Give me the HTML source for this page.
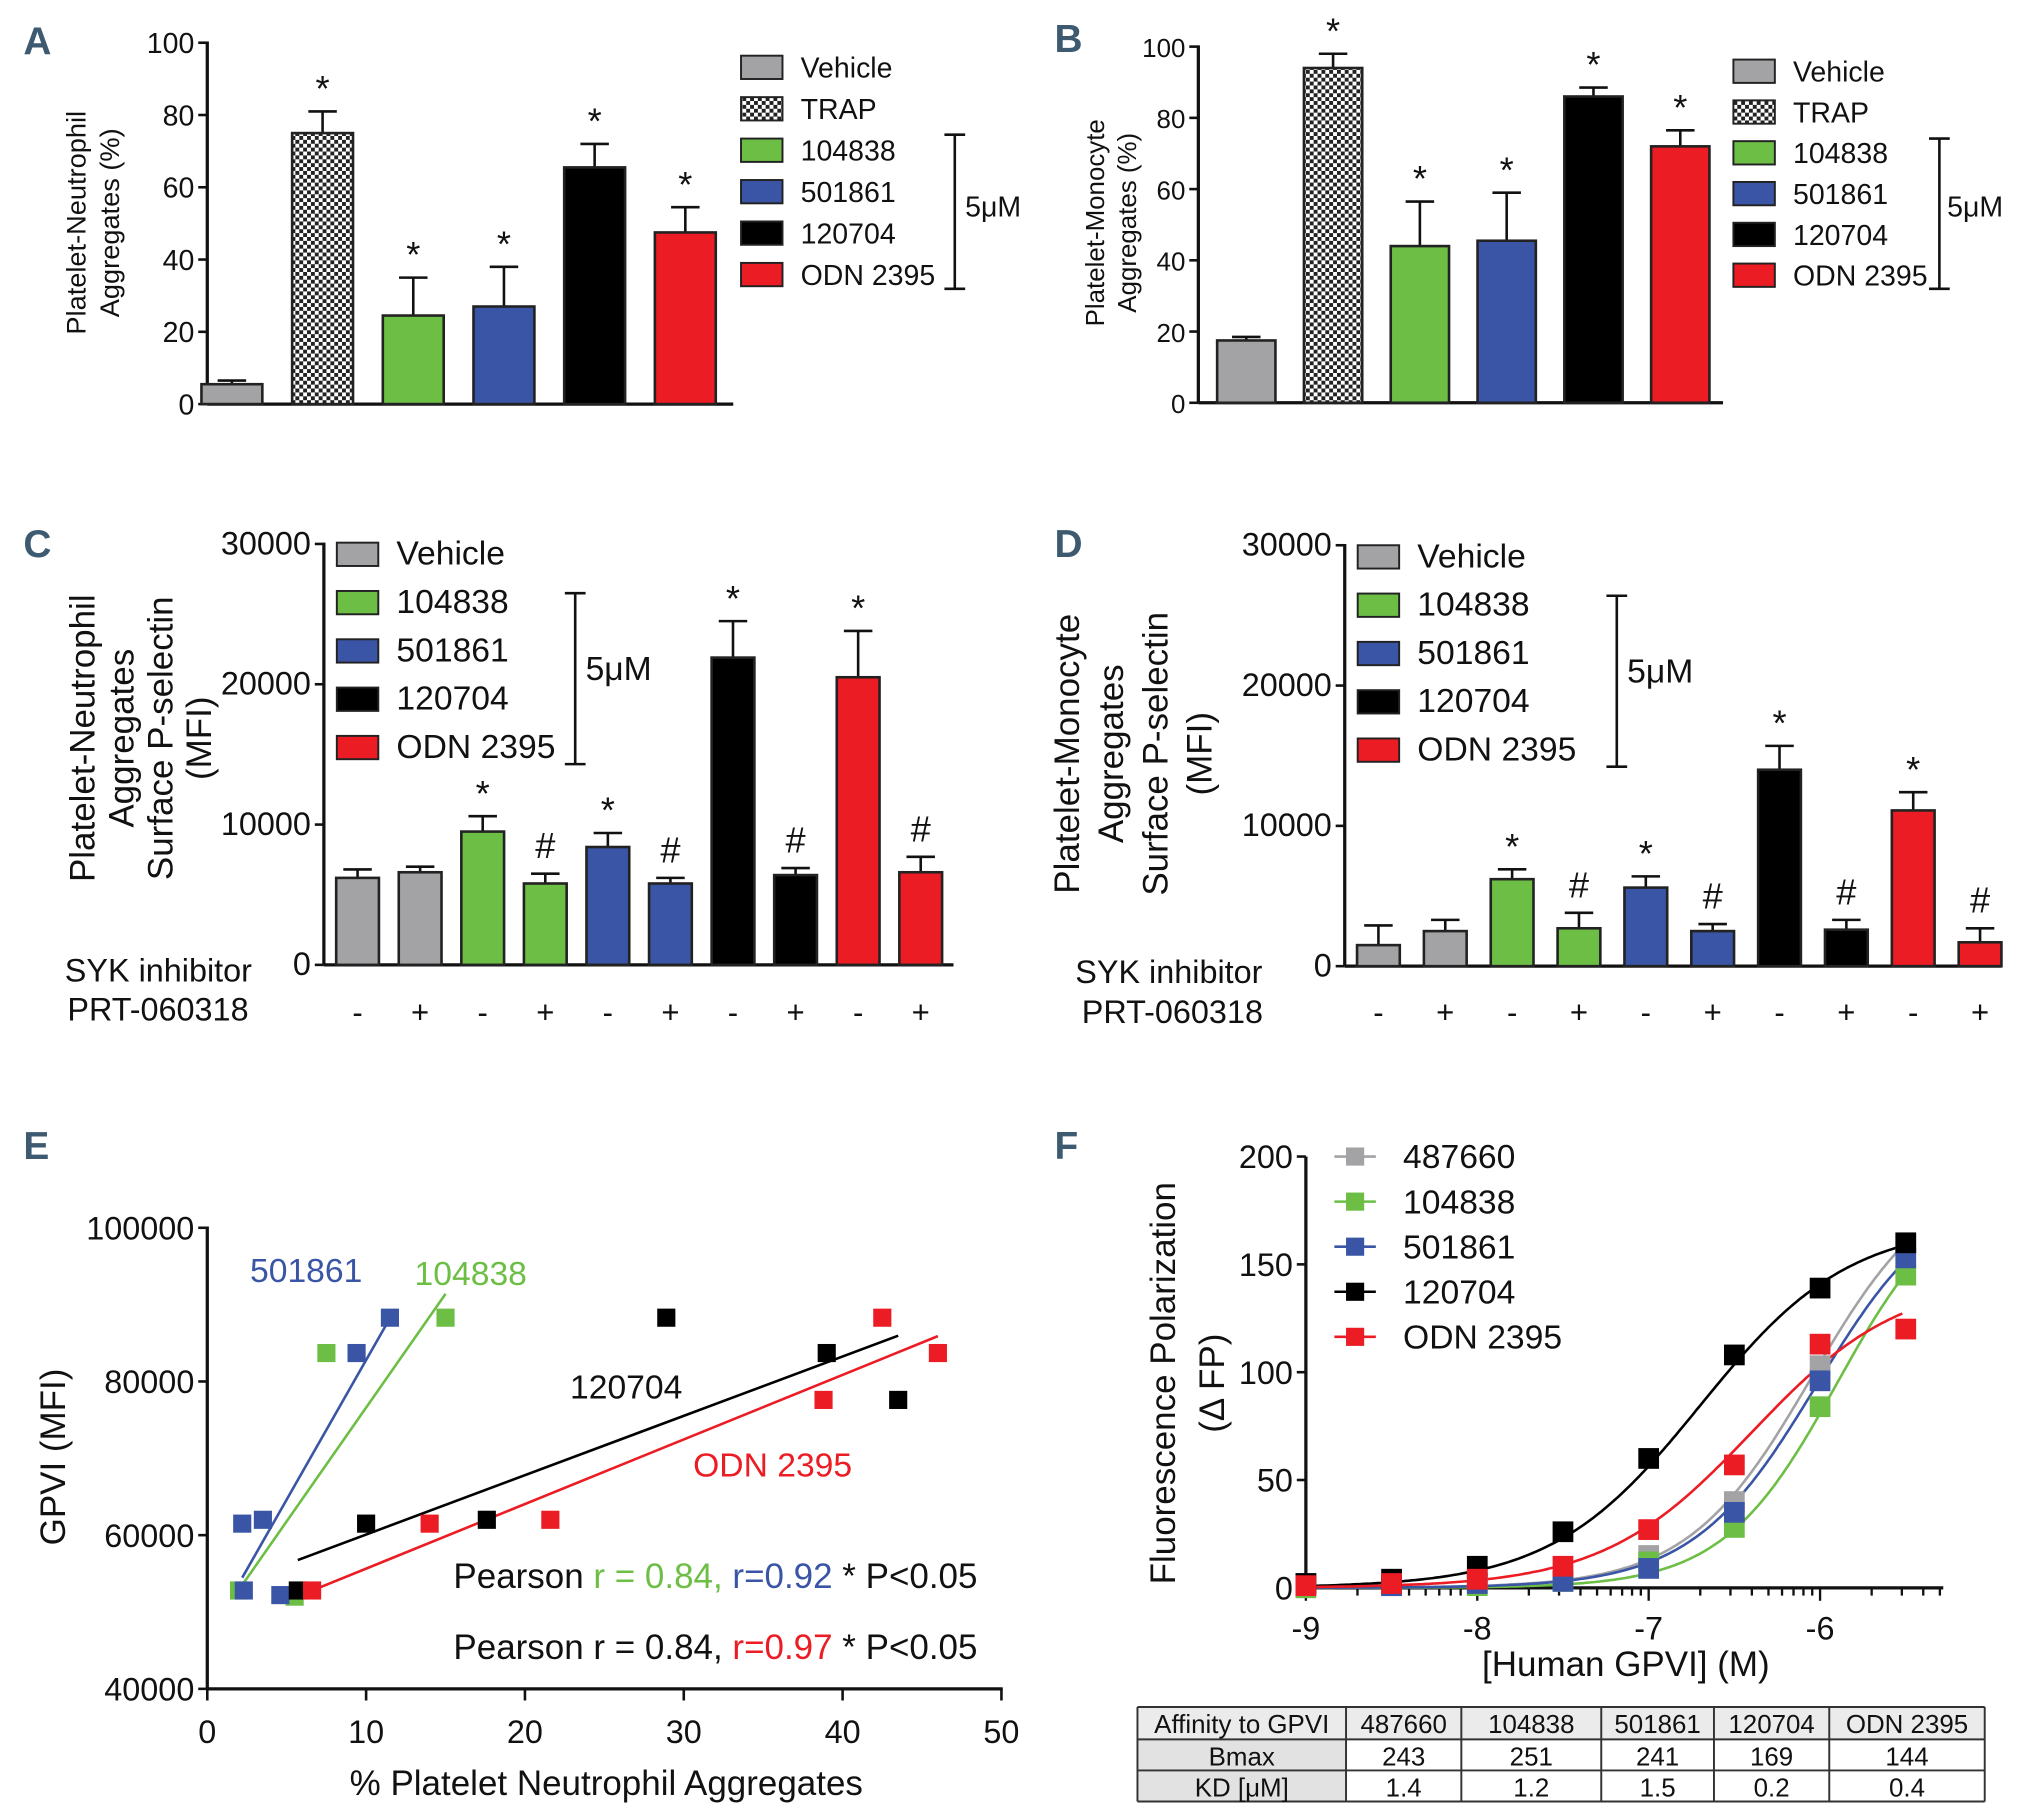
<!DOCTYPE html>
<html><head><meta charset="utf-8"><style>
html,body{margin:0;padding:0;background:#fff}
svg{display:block}
text{font-family:"Liberation Sans Narrow","Liberation Sans",sans-serif}
</style></head><body>
<svg id="fig" xmlns="http://www.w3.org/2000/svg" width="2021" height="1808" viewBox="0 0 1560 1396" preserveAspectRatio="none">
<defs><pattern id="chk" width="6" height="6" patternUnits="userSpaceOnUse"><rect width="6" height="6" fill="#fff"/><rect width="3" height="3" fill="#222"/><rect x="3" y="3" width="3" height="3" fill="#222"/></pattern></defs>
</svg>
<script>
// ---- Panel A data ----
const aCats=["Vehicle","TRAP","104838","501861","120704","ODN 2395"];
const aVals=[5.5,75,24.5,27,65.5,47.5];
const aErr=[1,6,10.5,11,6.5,7];
const aTicks=[0,20,40,60,80,100];
// ---- Panel B data ----
const bVals=[17.5,94,44,45.5,86,72];
const bErr=[1,4,12.5,13.5,2.5,4.5];
const bTicks=[0,20,40,60,80,100];
// ---- Panel C data ----
const cVals=[6200,6600,9500,5800,8400,5800,21900,6400,20500,6600];
const cErr=[600,400,1100,700,1000,400,2600,500,3300,1100];
const cMarks=["","","*","#","*","#","*","#","*","#"];
const cSyk=["-","+","-","+","-","+","-","+","-","+"];
const cTicks=[0,10000,20000,30000];
// ---- Panel D data ----
const dVals=[1500,2500,6200,2700,5600,2500,14000,2600,11100,1700];
const dErr=[1400,800,700,1100,800,500,1700,700,1300,1000];
// ---- Panel E data ----
const eBlueX=[2.2,3.5,2.3,4.6,9.4,11.5];
const eBlueY=[61500,62000,52800,52200,83700,88300];
const eGreenX=[2,5.5,7.5,15];
const eGreenY=[52800,52000,83700,88300];
const eBlackX=[5.7,10,17.6,28.9,39,43.5];
const eBlackY=[52800,61500,62000,88300,83700,77600];
const eRedX=[6.6,14,21.6,38.8,42.5,46];
const eRedY=[52800,61500,62000,77600,88300,83700];
const eXTicks=[0,10,20,30,40,50];
const eYTicks=[40000,60000,80000,100000];
// ---- Panel F data ----
const fLogX=[-9,-8.5,-8,-7.5,-7,-6.5,-6,-5.5];
const fGray=[1,1,2,3,15,40,103,160];
const fGreen=[0,1,1,3,12,28,84,145];
const fBlue=[2,1,2,3,9,35,96,153];
const fBlack=[2,4,10,26,60,108,139,160];
const fRed=[1,2,4,10,27,57,113,120];
const fNames=["487660","104838","501861","120704","ODN 2395"];
const fBmax=[243,251,241,169,144];
const fKd=[1.4,1.2,1.5,0.2,0.4];
// fitted curve parameters
const fTop=[195,190,188,169,144];
const fLogEC50=[-6.05,-5.9,-6.02,-6.7,-6.4];
const fSlope=[1.2,1.3,1.2,1,1];
const fYTicks=[0,50,100,150,200];
const fXTicks=[-9,-8,-7,-6];

const NS="http://www.w3.org/2000/svg";
const svg=document.getElementById('fig');
const COL={gray:"#a3a3a6",green:"#6cbe45",blue:"#3a55a5",black:"#000",red:"#ec1c24",chk:"url(#chk)"};
function mk(tag,at,parent){const e=document.createElementNS(NS,tag);for(const k in at)e.setAttribute(k,at[k]);(parent||svg).appendChild(e);return e;}
function txt(x,y,s,size,anchor,fill,parent,extra){const t=mk('text',Object.assign({x:x,y:y,'font-size':size,'text-anchor':anchor||'start',fill:fill||'#111'},extra||{}),parent);t.textContent=s;return t;}
function grp(name){const g=mk('g',{});return g;}
function line(x1,y1,x2,y2,p,w,c){return mk('line',{x1:x1,y1:y1,x2:x2,y2:y2,stroke:c||'#111','stroke-width':w||2},p);}

function panelLetter(x,y,s){const t=txt(x,y,s,30,'start','#3d5a70',null,{'font-weight':'bold'});}

function legend(p,x,y0,dy,items,size){items.forEach((it,i)=>{const y=y0+i*dy;const r=mk('rect',{x:x,y:y-9,width:32,height:18,fill:it[1],stroke:'#222','stroke-width':1.5},p);const t=txt(x+46,y+8,it[0],size,'start','#111',p);});}
function bracket(p,x,y1,y2,lx,ly,size){line(x,y1,x,y2,p,2);line(x-8,y1,x+8,y1,p,2);line(x-8,y2,x+8,y2,p,2);const t=txt(lx,ly,'5μM',size,'start','#111',p);}

function barPanel(o){
  const p=grp(o.name);
  const ys=v=>o.y0-(v-o.vmin)/(o.vmax-o.vmin)*(o.y0-o.y1);
  line(o.ax,o.y1-1,o.ax,o.y0,p,2.5);line(o.ax,o.y0,o.axEnd,o.y0,p,2.5);
  o.ticks.forEach(t=>{const y=ys(t);line(o.ax-7,y,o.ax,y,p,2);const l=txt(o.ax-10,y+8,String(t),o.tsize,'end','#111',p);});
  o.vals.forEach((v,i)=>{const cx=o.c0+i*o.step;const top=ys(v);const et=ys(v+o.err[i]);
    line(cx,top,cx,et,p,2);line(cx-11,et,cx+11,et,p,2);
    const r=mk('rect',{x:cx-o.bw/2,y:top,width:o.bw,height:o.y0-top,fill:o.fills[i],stroke:'#222','stroke-width':2},p);
    
    const m=o.marks[i];if(m){const t=txt(cx,et-(m==='*'?8:12),m,28,'middle','#111',p);}
  });
  o.ylab.forEach((s,i)=>{const t=txt(o.ylx+i*o.yldx,o.yly,s,o.ylsize,'middle','#111',p,{transform:`rotate(-90 ${o.ylx+i*o.yldx} ${o.yly})`});});
  return {p,ys};
}
const F6=[COL.gray,COL.chk,COL.green,COL.blue,COL.black,COL.red];
const F10=[COL.gray,COL.gray,COL.green,COL.green,COL.blue,COL.blue,COL.black,COL.black,COL.red,COL.red];

// Panel A
panelLetter(18,42,'A');
let A=barPanel({name:'panel-a-chart',vals:aVals,err:aErr,fills:F6,marks:['','*','*','*','*','*'],ticks:aTicks,vmin:0,vmax:100,y0:312,y1:33,ax:160,axEnd:566,c0:179,step:70,bw:47,tsize:22,ylab:['Platelet-Neutrophil','Aggregates (%)'],ylx:66,yldx:26,yly:172,ylsize:21});
legend(A.p,572,52,32,aCats.map((c,i)=>[c,F6[i]]),22);
bracket(A.p,737,104,223,745,167,22);

// Panel B
panelLetter(814,40,'B');
let B=barPanel({name:'panel-b-chart',vals:bVals,err:bErr,fills:F6,marks:['','*','*','*','*','*'],ticks:bTicks,vmin:0,vmax:100,y0:311,y1:36,ax:925,axEnd:1330,c0:962,step:67,bw:45,tsize:20,ylab:['Platelet-Monocyte','Aggregates (%)'],ylx:852,yldx:25,yly:172,ylsize:20});
legend(B.p,1338,55,31.5,aCats.map((c,i)=>[c,F6[i]]),22);
bracket(B.p,1497,107,223,1503,167,22);

// Panel C
panelLetter(18,430,'C');
let C=barPanel({name:'panel-c-chart',vals:cVals,err:cErr,fills:F10,marks:cMarks,ticks:cTicks,vmin:0,vmax:30000,y0:745,y1:420,ax:250,axEnd:736,c0:276,step:48.3,bw:33,tsize:25,ylab:['Platelet-Neutrophil','Aggregates','Surface P-selectin','(MFI)'],ylx:73,yldx:30,yly:570,ylsize:27});
legend(C.p,260,428,37.3,["Vehicle","104838","501861","120704","ODN 2395"].map((c,i)=>[c,[COL.gray,COL.green,COL.blue,COL.black,COL.red][i]]),26);
bracket(C.p,444,458,590,452,525,26);
[['SYK inhibitor',50,758],['PRT-060318',52,788]].forEach(a=>{const t=txt(a[1],a[2],a[0],25,'start','#111',C.p);});
cSyk.forEach((s,i)=>{const t=txt(276+i*48.3,790,s,24,'middle','#111',C.p);});

// Panel D
panelLetter(814,430,'D');
let D=barPanel({name:'panel-d-chart',vals:dVals,err:dErr,fills:F10,marks:cMarks,ticks:cTicks,vmin:0,vmax:30000,y0:746,y1:421,ax:1038,axEnd:1545,c0:1064,step:51.6,bw:33,tsize:25,ylab:['Platelet-Monocyte','Aggregates','Surface P-selectin','(MFI)'],ylx:833,yldx:34,yly:582,ylsize:27});
legend(D.p,1048,430,37.3,["Vehicle","104838","501861","120704","ODN 2395"].map((c,i)=>[c,[COL.gray,COL.green,COL.blue,COL.black,COL.red][i]]),26);
bracket(D.p,1248,460,592,1256,527,26);
[['SYK inhibitor',830,759],['PRT-060318',835,790]].forEach(a=>{const t=txt(a[1],a[2],a[0],25,'start','#111',D.p);});
cSyk.forEach((s,i)=>{const t=txt(1064+i*51.6,790,s,24,'middle','#111',D.p);});

// Panel E
panelLetter(18,895,'E');
(function(){
  const p=grp('panel-e-chart');
  const xs=v=>160+v*12.26, ys=v=>1304-(v-40000)/60000*356;
  line(160,947,160,1304,p,2.5);line(160,1304,774,1304,p,2.5);
  eXTicks.forEach(t=>{line(xs(t),1304,xs(t),1313,p,2);const l=txt(xs(t),1346,String(t),25,'middle','#111',p);});
  eYTicks.forEach(t=>{line(153,ys(t),160,ys(t),p,2);const l=txt(150,ys(t)+9,String(t),25,'end','#111',p);});
  function fit(X,Y,x1,x2,c,name){const n=X.length;const mx=X.reduce((a,b)=>a+b)/n,my=Y.reduce((a,b)=>a+b)/n;let sxy=0,sxx=0;X.forEach((x,i)=>{sxy+=(x-mx)*(Y[i]-my);sxx+=(x-mx)*(x-mx);});const b=sxy/sxx,a=my-b*mx;const l=line(xs(x1),ys(a+b*x1),xs(x2),ys(a+b*x2),p,2,c);}
  fit(eBlueX,eBlueY,Math.min(...eBlueX),Math.max(...eBlueX),COL.blue,'fit-line-501861');
  fit(eGreenX,eGreenY,Math.min(...eGreenX),Math.max(...eGreenX),COL.green,'fit-line-104838');
  fit(eBlackX,eBlackY,Math.min(...eBlackX),Math.max(...eBlackX),COL.black,'fit-line-120704');
  fit(eRedX,eRedY,Math.min(...eRedX),Math.max(...eRedX),COL.red,'fit-line-odn2395');
  function pts(X,Y,c,name){X.forEach((x,i)=>{const r=mk('rect',{x:xs(x)-7,y:ys(Y[i])-7,width:14,height:14,fill:c},p);});}
  pts(eGreenX,eGreenY,COL.green,'point-104838');pts(eBlueX,eBlueY,COL.blue,'point-501861');pts(eBlackX,eBlackY,COL.black,'point-120704');pts(eRedX,eRedY,COL.red,'point-odn2395');
  [['501861',193,990,COL.blue],['104838',320,992,COL.green],['120704',440,1080,'#111'],['ODN 2395',535,1140,COL.red]].forEach(a=>{const t=txt(a[1],a[2],a[0],26,'start',a[3],p);});
  const t1=mk('text',{x:350,y:1226,'font-size':27,fill:'#111'},p);t1.innerHTML='<tspan>Pearson </tspan><tspan fill="#6cbe45">r = 0.84, </tspan><tspan fill="#3a55a5">r=0.92</tspan><tspan> * P&lt;0.05</tspan>';
  const t2=mk('text',{x:350,y:1281,'font-size':27,fill:'#111'},p);t2.innerHTML='<tspan>Pearson r = 0.84, </tspan><tspan fill="#ec1c24">r=0.97</tspan><tspan> * P&lt;0.05</tspan>';
  const xt=txt(468,1386,'% Platelet Neutrophil Aggregates',27,'middle','#111',p);
  const yt=txt(50,1125,'GPVI (MFI)',27,'middle','#111',p,{transform:'rotate(-90 50 1125)'});
})();

// Panel F
panelLetter(814,895,'F');
(function(){
  const p=grp('panel-f-chart');
  const xs=v=>1008+(v+9)*132.3, ys=v=>1226-v/200*333;
  line(1008,893,1008,1226,p,2.5);line(1008,1226,1500,1226,p,2.5);
  fYTicks.forEach(t=>{line(1001,ys(t),1008,ys(t),p,2);const l=txt(998,ys(t)+9,String(t),25,'end','#111',p);});
  for(let d=-9;d<=-6;d++){for(let k=1;k<10;k++){const v=d+Math.log10(k);if(v>-5.3)break;line(xs(v),1226,xs(v),1226+(k===1?10:6),p,1.8);}}
  fXTicks.forEach(t=>{const l=txt(xs(t),1266,String(t),25,'middle','#111',p);});
  const series=[fGray,fGreen,fBlue,fBlack,fRed];const cols=[COL.gray,COL.green,COL.blue,COL.black,COL.red];
  series.forEach((S,si)=>{let d='';for(let v=-9;v<=-5.5001;v+=0.02){const y=fTop[si]/(1+Math.pow(10,fSlope[si]*(fLogEC50[si]-v)));d+=(d?'L':'M')+xs(v).toFixed(1)+','+ys(y).toFixed(1);}
    const pa=mk('path',{d:d,fill:'none',stroke:cols[si],'stroke-width':2},p);});
  series.forEach((S,si)=>{S.forEach((y,i)=>{const r=mk('rect',{x:xs(fLogX[i])-8,y:ys(y)-8,width:16,height:16,fill:cols[si]},p);});});
  fNames.forEach((n,i)=>{const y=893+i*34.8;line(1030,y,1062,y,p,2,cols[i]);const r=mk('rect',{x:1039,y:y-7,width:14,height:14,fill:cols[i]},p);const t=txt(1083,y+9,n,26,'start','#111',p);});
  const y1=txt(907,1068,'Fluorescence  Polarization',27,'middle','#111',p,{transform:'rotate(-90 907 1068)'});
  const y2=txt(945,1068,'(Δ FP)',27,'middle','#111',p,{transform:'rotate(-90 945 1068)'});
  const xt=txt(1255,1294,'[Human GPVI] (M)',27,'middle','#111',p);
  // table
  const tb=grp('affinity-table');
  const cx=[878,1039,1128,1236,1323,1412,1532], ry=[1318,1343,1367,1391];
  mk('rect',{x:878,y:1318,width:654,height:25,fill:'#ebebeb'},tb);
  mk('rect',{x:878,y:1343,width:161,height:48,fill:'#e2e2e2'},tb);
  cx.forEach(x=>line(x,1318,x,1391,tb,1.5,'#333'));ry.forEach(y=>line(878,y,1532,y,tb,1.5,'#333'));
  const rows=[['Affinity to GPVI'].concat(fNames),['Bmax'].concat(fBmax.map(String)),['KD [μM]'].concat(fKd.map(v=>v.toFixed(1)))];
  rows.forEach((r,ri)=>r.forEach((s,ci)=>{const t=txt((cx[ci]+cx[ci+1])/2,ry[ri]+20,s,20,'middle','#111',tb);}));
})();
</script>
</body></html>
